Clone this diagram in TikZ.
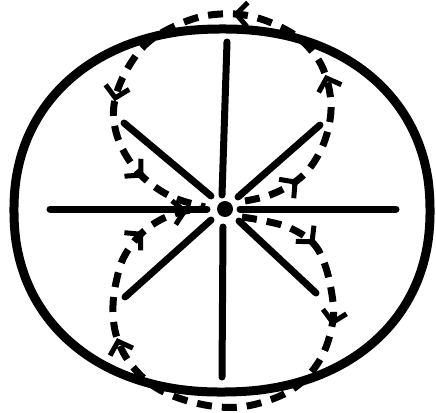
\documentclass[tikz,border=0pt]{standalone}
\usetikzlibrary{arrows.meta,decorations.markings}
\tikzset{flowtip/.tip={Straight Barb[length=11pt,width=24pt,line width=5pt]}}
\begin{document}
\begin{tikzpicture}[x=1pt,y=-1pt,
  rim/.style={line width=9pt},
  spoke/.style={line width=7pt,line cap=round},
  flow/.style={line width=7pt,dash pattern=on 15pt off 10pt}]
\useasboundingbox (0,0) rectangle (436,412);
% outer rounded ellipse (slight superellipse)
\draw[rim] plot[smooth cycle,variable=\t,domain=1:358,samples=120]
  ({222+208*cos(\t)/abs(cos(\t))*exp(0.92*ln(abs(cos(\t))))},
   {210.5+181.5*sin(\t)/abs(sin(\t))*exp(0.92*ln(abs(sin(\t))))});
% centre dot
\node[circle,fill=black,inner sep=0pt,minimum size=16pt] (c) at (225,209) {};
% spokes
\draw[spoke] (227,42) -- (222,195);
\draw[spoke] (223,227) -- (222,377);
\draw[spoke] (50,209) -- (207,209);
\draw[spoke] (240,209) -- (396,209);
\draw[spoke] (124,123) -- (211,196);
\draw[spoke] (320,125) -- (238,197);
\draw[spoke] (125,297) -- (211,220);
\draw[spoke] (316,293) -- (239,221);
% upper loop
\draw[flow,postaction={decorate},decoration={markings,
   mark=at position 0.095 with {\arrow{flowtip}},
   mark=at position 0.286 with {\arrow{flowtip}},
   mark=at position 0.48 with {\arrow{flowtip}},
   mark=at position 0.745 with {\arrow{flowtip}},
   mark=at position 0.885 with {\arrow{flowtip}}}]
  plot[smooth,tension=0.6] coordinates {(245,201) (270,195) (295,182) (312,165) (325,140) (331,110) (327,80) (315,55) (290,32) (250,16) (210,15) (175,26) (145,45) (124,75) (114,105) (116,132) (127,157) (145,179) (172,197) (205,207)};
% lower loop
\draw[flow,postaction={decorate},decoration={markings,
   mark=at position 0.125 with {\arrow{flowtip}},
   mark=at position 0.26 with {\arrow{flowtip}},
   mark=at position 0.711 with {\arrow{flowtip}},
   mark=at position 0.893 with {\arrow{flowtip}},
   mark=at position 0.973 with {\arrow{flowtip}}}]
  plot[smooth,tension=0.6] coordinates {(242,217) (265,221) (290,228) (313,243) (325,265) (332,295) (333,320) (324,352) (306,378) (280,396) (240,407) (200,404) (160,390) (133,367) (117,338) (113,305) (119,270) (128,250) (143,232) (162,219) (185,211) (205,209)};
\end{tikzpicture}
\end{document}
